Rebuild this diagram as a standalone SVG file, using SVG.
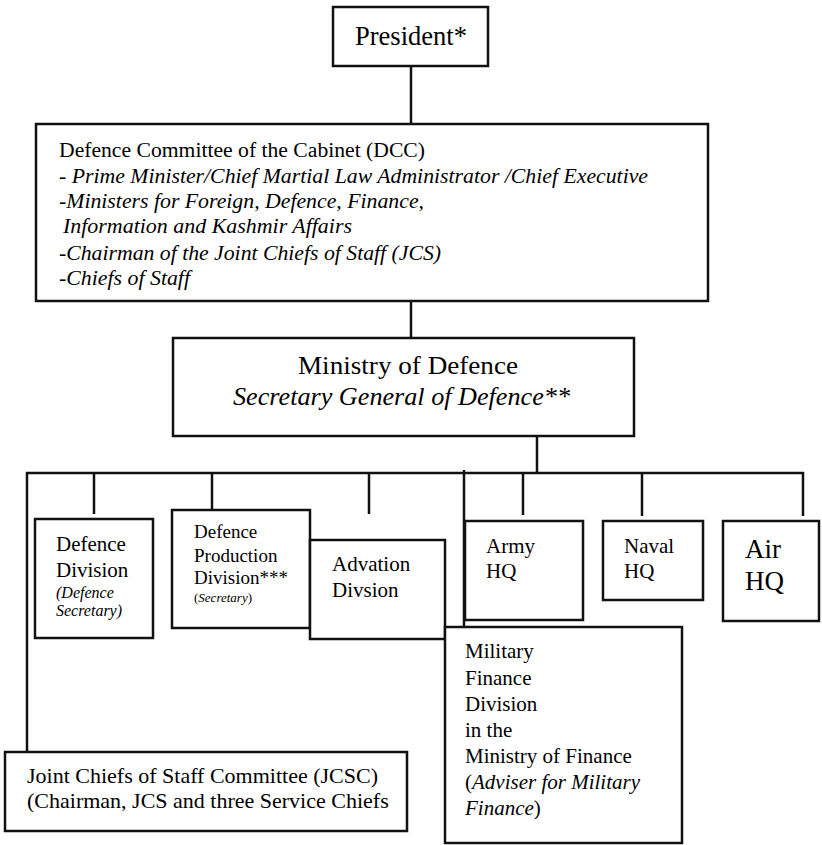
<svg xmlns="http://www.w3.org/2000/svg" width="822" height="845" viewBox="0 0 822 845" font-family="Liberation Serif, Times New Roman, serif">
<style>
.box{fill:#fff;stroke:#111;stroke-width:2.5}
.ln{stroke:#111;stroke-width:2.5;fill:none}
.it{font-style:italic}
</style>
<rect width="822" height="845" fill="#fff"/>
<g id="connectors">
<line class="ln" x1="411" y1="66" x2="411" y2="124"/>
<line class="ln" x1="411" y1="300" x2="411" y2="338"/>
<line class="ln" x1="537" y1="436" x2="537" y2="473"/>
<line class="ln" x1="26" y1="473" x2="804" y2="473"/>
<line class="ln" x1="27" y1="472" x2="27" y2="752"/>
<line class="ln" x1="94" y1="473" x2="94" y2="514"/>
<line class="ln" x1="212" y1="473" x2="212" y2="512"/>
<line class="ln" x1="369" y1="473" x2="369" y2="514"/>
<line class="ln" x1="464" y1="470" x2="464" y2="628"/>
<line class="ln" x1="523" y1="473" x2="523" y2="515"/>
<line class="ln" x1="642" y1="473" x2="642" y2="516"/>
<line class="ln" x1="803" y1="472" x2="803" y2="516"/>
</g>
<g id="president">
<rect class="box" x="333" y="7" width="155" height="59"/>
<text x="411" y="45" font-size="27" text-anchor="middle" textLength="112" lengthAdjust="spacingAndGlyphs">President*</text>
</g>
<g id="dcc">
<rect class="box" x="36" y="124" width="672" height="177"/>
<text x="59" y="157" font-size="20" textLength="366" lengthAdjust="spacingAndGlyphs">Defence Committee of the Cabinet (DCC)</text>
<text class="it" x="59" y="183" font-size="20" textLength="589" lengthAdjust="spacingAndGlyphs">- Prime Minister/Chief Martial Law Administrator /Chief Executive</text>
<text class="it" x="59" y="208" font-size="20" textLength="365" lengthAdjust="spacingAndGlyphs">-Ministers for Foreign, Defence, Finance,</text>
<text class="it" x="63" y="233" font-size="20" textLength="289" lengthAdjust="spacingAndGlyphs">Information and Kashmir Affairs</text>
<text class="it" x="59" y="260" font-size="20" textLength="382" lengthAdjust="spacingAndGlyphs">-Chairman of the Joint Chiefs of Staff (JCS)</text>
<text class="it" x="59" y="285" font-size="20" textLength="131" lengthAdjust="spacingAndGlyphs">-Chiefs of Staff</text>
</g>
<g id="mod">
<rect class="box" x="173" y="338" width="461" height="98"/>
<text x="298" y="374" font-size="25" textLength="220" lengthAdjust="spacingAndGlyphs">Ministry of Defence</text>
<text class="it" x="233" y="405" font-size="25" textLength="337" lengthAdjust="spacingAndGlyphs">Secretary General of Defence**</text>
</g>
<g id="defence-division">
<rect class="box" x="35" y="519" width="118" height="119"/>
<text x="56" y="551" font-size="21">Defence</text>
<text x="56" y="577" font-size="21">Division</text>
<text class="it" x="56" y="598" font-size="16">(Defence</text>
<text class="it" x="56" y="616" font-size="16">Secretary)</text>
</g>
<g id="defence-production">
<rect class="box" x="172" y="510" width="138" height="118"/>
<text x="194" y="538" font-size="19">Defence</text>
<text x="194" y="562" font-size="19">Production</text>
<text x="194" y="584" font-size="19">Division***</text>
<text x="194" y="602" font-size="13">(<tspan font-style="italic">Secretary</tspan>)</text>
</g>
<g id="advation">
<rect class="box" x="310" y="540" width="135" height="99"/>
<text x="332" y="571" font-size="21">Advation</text>
<text x="332" y="597" font-size="21">Divsion</text>
</g>
<g id="military-finance">
<rect class="box" x="445" y="627" width="237" height="216"/>
<text x="465" y="658" font-size="21">Military</text>
<text x="465" y="685" font-size="21">Finance</text>
<text x="465" y="711" font-size="21">Division</text>
<text x="465" y="737" font-size="21">in the</text>
<text x="465" y="763" font-size="21">Ministry of Finance</text>
<text x="465" y="789" font-size="21">(<tspan font-style="italic">Adviser for Military</tspan></text>
<text x="465" y="815" font-size="21"><tspan font-style="italic">Finance</tspan>)</text>
</g>
<g id="army-hq">
<rect class="box" x="465" y="521" width="118" height="99"/>
<text x="486" y="553" font-size="21">Army</text>
<text x="486" y="578" font-size="21">HQ</text>
</g>
<g id="naval-hq">
<rect class="box" x="603" y="521" width="100" height="79"/>
<text x="624" y="553" font-size="21">Naval</text>
<text x="624" y="578" font-size="21">HQ</text>
</g>
<g id="air-hq">
<rect class="box" x="723" y="521" width="96" height="100"/>
<text x="745" y="558" font-size="27">Air</text>
<text x="745" y="590" font-size="27">HQ</text>
</g>
<g id="jcsc">
<rect class="box" x="5" y="752" width="402" height="79"/>
<text x="27" y="783" font-size="22">Joint Chiefs of Staff Committee (JCSC)</text>
<text x="27" y="808" font-size="22">(Chairman, JCS and three Service Chiefs</text>
</g>
</svg>
